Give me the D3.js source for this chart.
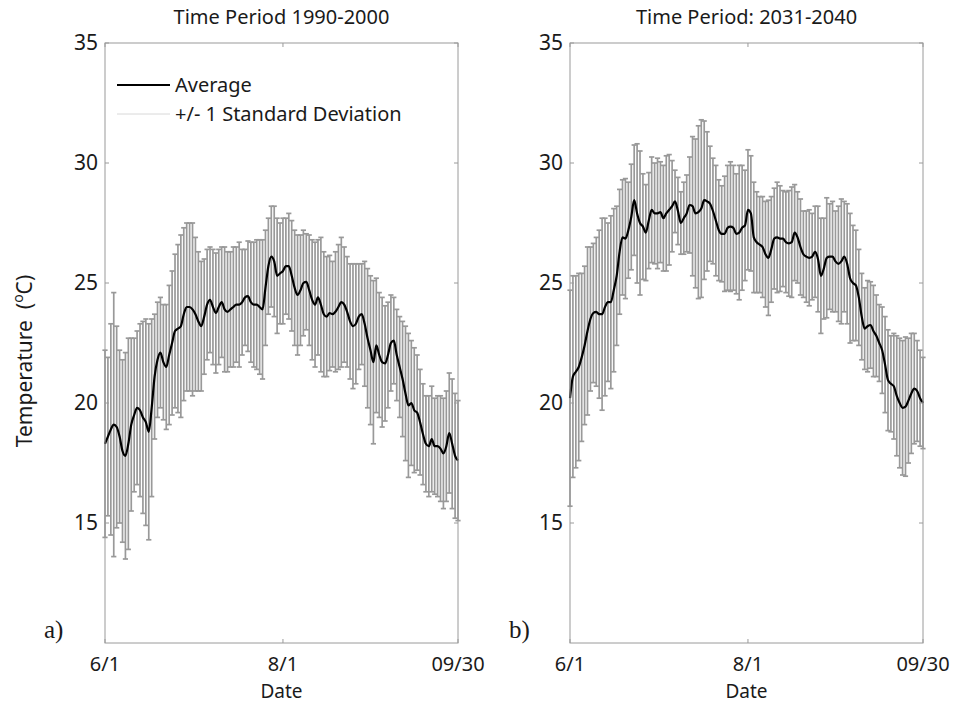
<!DOCTYPE html>
<html>
<head>
<meta charset="utf-8">
<script src="https://cdnjs.cloudflare.com/ajax/libs/d3/7.8.5/d3.min.js"></script>
<style>
  body { margin: 0; background: #fff; }
  text { font-family: "Noto Sans", sans-serif; fill: #1a1a1a; }
</style>
</head>
<body>
<svg id="chart" width="953" height="705"></svg>
<script>
// Daily average temperature, 6/1 - 9/30 (122 days), period 1990-2000
var meanA = [18.3,18.6,18.9,19.1,19.0,18.6,18.0,17.8,18.3,19.1,19.5,19.8,19.7,19.4,19.2,18.8,19.8,21.1,21.8,22.1,
  21.7,21.5,22.0,22.5,23.0,23.1,23.2,23.7,24.0,24.0,23.9,23.7,23.4,23.2,23.6,24.1,24.3,24.0,23.75,24.0,
  24.2,23.9,23.8,23.9,24.0,24.1,24.1,24.2,24.4,24.45,24.2,24.1,24.1,24.0,23.9,24.8,25.7,26.1,25.9,25.3,
  25.4,25.5,25.7,25.7,25.3,24.8,24.5,24.7,25.0,25.05,24.7,24.3,24.1,24.4,24.1,23.7,23.6,23.75,23.7,23.8,
  24.0,24.2,24.1,23.8,23.4,23.2,23.3,23.6,23.7,23.3,22.7,22.2,21.7,22.4,22.0,21.7,21.65,22.0,22.5,22.6,
  22.0,21.5,21.0,20.4,19.9,20.0,19.7,19.6,19.2,18.7,18.3,18.2,18.5,18.2,18.2,18.1,17.9,18.2,18.75,18.3,
  17.8,17.6];
// +/- 1 standard deviation, 1990-2000
var sdA = [3.9,3.3,4.4,5.5,4.2,3.6,3.8,4.3,4.4,3.6,3.2,3.2,3.6,4.0,4.3,4.5,3.7,2.6,2.4,2.3,
  2.4,2.6,2.9,3.0,3.2,3.5,3.8,3.6,3.5,3.5,3.6,3.2,2.9,2.7,2.4,2.3,2.2,2.4,2.5,2.4,
  2.3,2.6,2.5,2.4,2.5,2.4,2.6,2.2,2.0,2.3,2.5,2.6,2.7,2.8,2.9,2.4,2.0,2.1,2.3,2.4,
  2.1,2.2,2.0,2.2,2.3,2.4,2.5,2.3,2.2,2.0,2.3,2.5,2.6,2.4,2.8,2.6,2.5,2.4,2.2,2.5,
  2.6,2.7,2.4,2.3,2.4,2.6,2.5,2.2,2.1,2.6,2.9,3.1,3.4,2.8,2.6,2.7,2.4,2.2,2.0,1.8,
  1.9,2.1,2.4,2.8,3.0,2.6,2.6,2.4,2.2,2.1,2.0,2.1,2.2,2.0,2.1,2.2,2.3,2.3,2.5,2.7,
  2.6,2.5];

// Daily average temperature, period 2031-2040
var meanB = [20.2,21.1,21.3,21.5,21.9,22.4,23.0,23.5,23.75,23.8,23.7,23.7,24.0,24.2,24.2,24.7,25.3,26.3,26.9,26.85,
  27.2,27.75,28.45,27.9,27.5,27.35,27.1,27.6,28.05,27.9,27.9,27.95,27.7,27.9,28.05,28.2,28.4,28.0,27.5,27.7,
  27.9,28.25,28.2,27.9,27.95,28.1,28.45,28.4,28.3,28.0,27.6,27.2,27.05,27.05,27.3,27.35,27.3,27.05,27.1,27.3,
  27.4,28.05,27.9,26.9,26.7,26.6,26.5,26.2,26.05,26.4,26.85,26.9,26.85,26.85,26.7,26.65,26.7,27.1,26.9,26.5,
  26.2,26.1,26.05,26.1,26.3,26.0,25.3,25.6,26.05,26.1,26.1,25.9,25.8,25.9,26.1,25.8,25.2,25.0,24.9,24.4,
  23.6,23.1,23.2,23.25,23.0,22.8,22.5,22.2,21.6,20.95,20.8,20.7,20.3,20.0,19.8,19.85,20.1,20.4,20.6,20.5,
  20.2,20.0];
// +/- 1 standard deviation, 2031-2040
var sdB = [4.5,4.2,4.0,3.9,3.5,3.3,3.5,3.0,2.9,3.1,3.5,4.0,3.7,3.3,3.6,3.4,2.9,2.6,2.4,2.5,
  2.0,2.2,2.3,2.9,3.0,2.2,2.0,2.0,2.2,2.1,2.3,2.1,2.2,2.4,2.3,1.9,1.3,1.4,1.3,1.5,
  1.6,2.0,2.9,3.1,3.6,3.7,3.3,2.9,2.4,2.2,2.3,2.1,2.0,2.4,2.6,2.7,2.6,2.5,2.8,2.6,
  2.3,2.5,2.4,2.3,2.1,2.0,2.1,2.2,2.4,2.2,2.1,2.3,2.2,2.0,2.1,2.2,2.3,2.0,1.9,2.0,
  1.8,1.9,2.0,1.8,1.9,2.2,2.4,2.1,2.5,2.2,2.3,2.1,2.4,2.6,2.3,2.5,2.7,2.4,2.3,2.0,
  1.8,1.7,1.9,1.8,1.9,1.7,1.6,1.8,2.0,2.1,2.0,2.2,2.5,2.7,2.8,2.9,2.6,2.5,2.3,2.1,
  2.0,1.9];

// Axis ticks
var xTickDays = [0, 61, 121];
var xTickLabels = ['6/1', '8/1', '09/30'];
var yTicks = [15, 20, 25, 30, 35];
var titles = ['Time Period 1990-2000', 'Time Period: 2031-2040'];
var tags = ['a)', 'b)'];

var svg = d3.select('#chart');
var plotTop = 43, plotBottom = 643, plotW = 353;
var boxColor = '#9a9a9a';

// one panel: box, error bars, mean line, labels
function drawPanel(left, mean, sd, title, tag) {
  var x = d3.scaleLinear().domain([0, 121]).range([left, left + plotW]);
  var y = d3.scaleLinear().domain([10, 35]).range([plotBottom, plotTop]);
  var g = svg.append('g');

  // error bars
  var bars = g.append('g').attr('stroke', '#999').attr('stroke-width', 1.7);
  mean.forEach(function(m, i) {
    var cx = x(i), lo = y(m - sd[i]), hi = y(m + sd[i]);
    bars.append('line').attr('x1', cx).attr('x2', cx).attr('y1', lo).attr('y2', hi);
    bars.append('line').attr('x1', cx - 2.6).attr('x2', cx + 2.6).attr('y1', lo).attr('y2', lo);
    bars.append('line').attr('x1', cx - 2.6).attr('x2', cx + 2.6).attr('y1', hi).attr('y2', hi);
  });

  // average line
  var line = d3.line().x(function(d, i) { return x(i); }).y(function(d) { return y(d); }).curve(d3.curveMonotoneX);
  g.append('path').datum(mean).attr('d', line).attr('fill', 'none').attr('stroke', '#000').attr('stroke-width', 2.2);

  // box
  g.append('rect').attr('x', left).attr('y', plotTop).attr('width', plotW).attr('height', plotBottom - plotTop)
    .attr('fill', 'none').attr('stroke', boxColor).attr('stroke-width', 1);

  // y ticks, inward on both sides
  yTicks.forEach(function(t) {
    g.append('line').attr('x1', left).attr('x2', left + 4).attr('y1', y(t)).attr('y2', y(t)).attr('stroke', boxColor);
    g.append('line').attr('x1', left + plotW - 4).attr('x2', left + plotW).attr('y1', y(t)).attr('y2', y(t)).attr('stroke', boxColor);
    g.append('text').attr('x', left - 7).attr('y', y(t) + 7).attr('text-anchor', 'end')
      .style('font-size', '21px').text(t);
  });

  // x ticks
  xTickDays.forEach(function(d, i) {
    g.append('line').attr('x1', x(d)).attr('x2', x(d)).attr('y1', plotBottom).attr('y2', plotBottom - 4).attr('stroke', boxColor);
    g.append('line').attr('x1', x(d)).attr('x2', x(d)).attr('y1', plotTop).attr('y2', plotTop + 4).attr('stroke', boxColor);
    g.append('text').attr('x', x(d)).attr('y', 671).attr('text-anchor', 'middle')
      .style('font-size', '20px').text(xTickLabels[i]);
  });

  g.append('text').attr('x', left + plotW / 2).attr('y', 698).attr('text-anchor', 'middle')
    .style('font-size', '19px').text('Date');
  g.append('text').attr('x', left + plotW / 2).attr('y', 24).attr('text-anchor', 'middle')
    .style('font-size', '20px').text(title);
  g.append('text').attr('x', left - 61).attr('y', 638)
    .style('font-family', '"Liberation Serif", serif').style('font-size', '25px').text(tag);
}

drawPanel(105, meanA, sdA, titles[0], tags[0]);
drawPanel(570, meanB, sdB, titles[1], tags[1]);

// legend in panel a
var lg = svg.append('g');
lg.append('line').attr('x1', 117).attr('x2', 170).attr('y1', 85).attr('y2', 85).attr('stroke', '#000').attr('stroke-width', 2);
lg.append('text').attr('x', 175).attr('y', 92).style('font-size', '20px').text('Average');
lg.append('line').attr('x1', 117).attr('x2', 170).attr('y1', 114).attr('y2', 114).attr('stroke', '#d8d8d8').attr('stroke-width', 1);
lg.append('text').attr('x', 175).attr('y', 121).style('font-size', '20px').text('+/- 1 Standard Deviation');

// y axis label
var yl = svg.append('text').attr('transform', 'translate(32,361) rotate(-90)').attr('text-anchor', 'middle')
  .style('font-size', '21px').attr('xml:space', 'preserve');
yl.append('tspan').text('Temperature  (');
yl.append('tspan').attr('dy', -9).style('font-size', '14px').text('o');
yl.append('tspan').attr('dy', 9).text('C)');
</script>
</body>
</html>
